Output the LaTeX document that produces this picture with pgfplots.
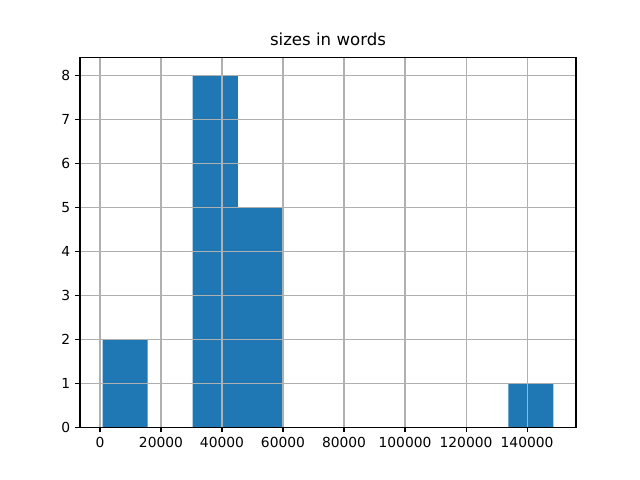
\documentclass[border=0pt]{standalone}
\usepackage{fontspec}
\setmainfont{DejaVu Sans}
\usepackage{pgfplots}
\pgfplotsset{compat=1.18}
\definecolor{mplblue}{HTML}{1F77B4}
\definecolor{mplgrid}{HTML}{B0B0B0}

\begin{document}
\begin{tikzpicture}
\useasboundingbox (-0.8in,-0.528in) rectangle (5.6in,4.272in);
\begin{axis}[
    at={(0,0)}, anchor=south west,
    scale only axis,
    width=4.96in, height=3.696in,
    xmin=-6540, xmax=156040,
    ymin=0, ymax=8.4,
    xtick={0,20000,40000,60000,80000,100000,120000,140000},
    xticklabels={0,20000,40000,60000,80000,100000,120000,140000},
    scaled x ticks=false,
    ytick={0,1,2,3,4,5,6,7,8},
    yticklabels={0,1,2,3,4,5,6,7,8},
    tick label style={font=\fontsize{10}{12}\selectfont},
    tick align=outside,
    major tick length=3.5pt,
    xtick pos=left, ytick pos=left,
    tick style={black, line width=0.8pt},
    axis line style={line width=0.8pt},
    grid=major,
    grid style={mplgrid, line width=0.8pt},
    axis on top,
    title={sizes in words},
    title style={font=\fontsize{12}{14}\selectfont, yshift=-1pt},
]
\addplot[ybar interval, fill=mplblue, draw=none] coordinates {
    (850,2) (15630,0) (30410,8) (45190,5) (59970,0) (74750,0)
    (89530,0) (104310,0) (119090,0) (133870,1) (148650,0)
};
\end{axis}
\end{tikzpicture}
\end{document}
